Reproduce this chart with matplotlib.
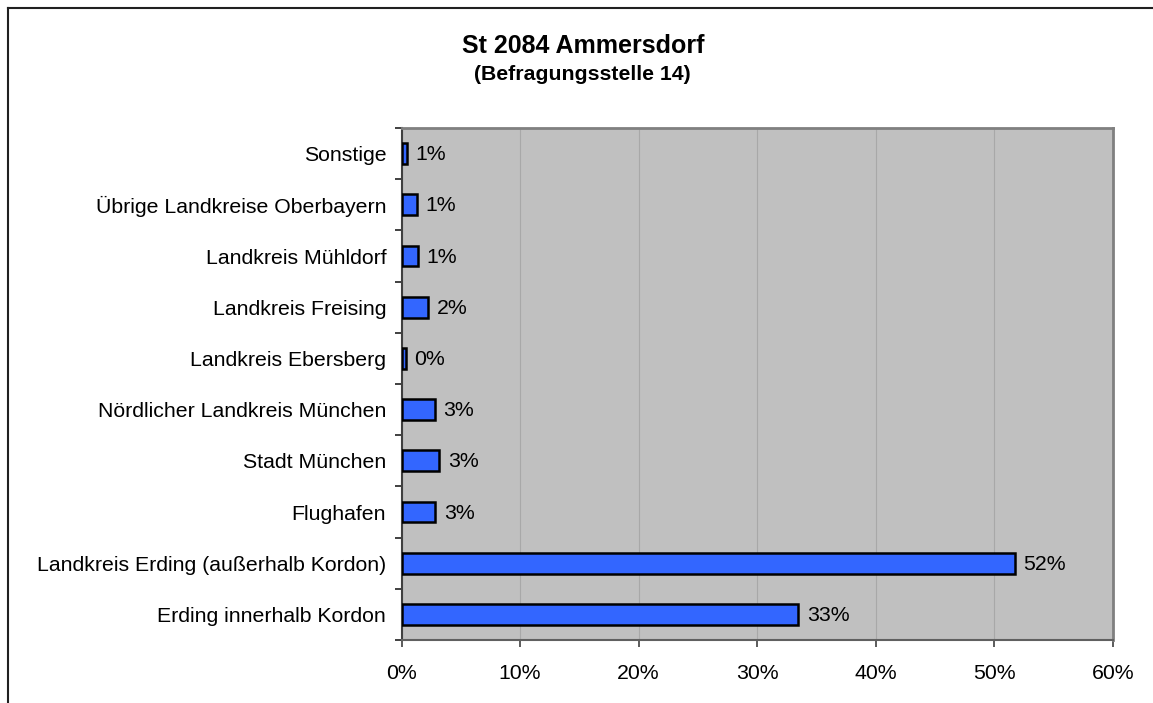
import matplotlib
matplotlib.use("Agg")
import matplotlib.pyplot as plt
from matplotlib.lines import Line2D
import numpy as np

categories = ["Erding innerhalb Kordon", "Landkreis Erding (außerhalb Kordon)", "Flughafen",
              "Stadt München", "Nördlicher Landkreis München", "Landkreis Ebersberg",
              "Landkreis Freising", "Landkreis Mühldorf", "Übrige Landkreise Oberbayern", "Sonstige"]
values = [33.45, 51.7, 2.85, 3.2, 2.8, 0.35, 2.23, 1.38, 1.28, 0.46]
labels = ["33%", "52%", "3%", "3%", "3%", "0%", "2%", "1%", "1%", "1%"]
xticks = [0, 10, 20, 30, 40, 50, 60]
xticklabels = ["0%", "10%", "20%", "30%", "40%", "50%", "60%"]

plt.rcParams['font.family'] = ['Liberation Sans', 'DejaVu Sans']

W, H = 1153, 703
FS = 15.3
fig = plt.figure(figsize=(W/100, H/100), dpi=100)
ax = fig.add_axes([401.5/W, 1 - 640/H, (1113-401.5)/W, (640-128)/H])
ax.set_facecolor("#c0c0c0")

y = np.arange(len(categories))
ax.barh(y, values, height=0.41, color="#3366ff", edgecolor="black", linewidth=1.8, zorder=3)
for yi, v, lab in zip(y, values, labels):
    ax.text(v + 0.75, yi - 0.02, lab, va="center", ha="left", fontsize=FS, zorder=4)

ax.set_xlim(0, 60)
ax.set_ylim(-0.5, len(categories) - 0.5)
ax.set_xticks(xticks)
ax.set_xticklabels(xticklabels, fontsize=FS)
ax.set_yticks(y)
ax.set_yticklabels(categories, fontsize=FS)
ax.set_yticks(np.arange(-0.5, len(categories), 1), minor=True)
ax.tick_params(axis="y", which="major", length=0, pad=11)
ax.tick_params(axis="y", which="minor", length=5, width=1.2, color="#202020")
ax.tick_params(axis="x", which="major", length=5, width=1.2, color="#404040", pad=12)
ax.xaxis.grid(True, color="#a8a8a8", linewidth=0.8, zorder=0)
ax.set_axisbelow(True)
for side in ["top", "right"]:
    ax.spines[side].set_color("#808080")
    ax.spines[side].set_linewidth(2)
ax.spines["left"].set_color("#404040")
ax.spines["left"].set_linewidth(1.5)
ax.spines["bottom"].set_color("#606060")
ax.spines["bottom"].set_linewidth(1.5)

fig.text(583/W, 1 - 46/H, "St 2084 Ammersdorf", ha="center", va="center", fontsize=18, fontweight="bold")
fig.text(582/W, 1 - 75/H, "(Befragungsstelle 14)", ha="center", va="center", fontsize=15.3, fontweight="bold")

fig.add_artist(Line2D([8/W, 1], [1 - 8/H, 1 - 8/H], color="#202020", linewidth=1.5, transform=fig.transFigure))
fig.add_artist(Line2D([8/W, 8/W], [1 - 8/H, 0], color="#202020", linewidth=1.5, transform=fig.transFigure))

fig.savefig("out.png", dpi=100)
